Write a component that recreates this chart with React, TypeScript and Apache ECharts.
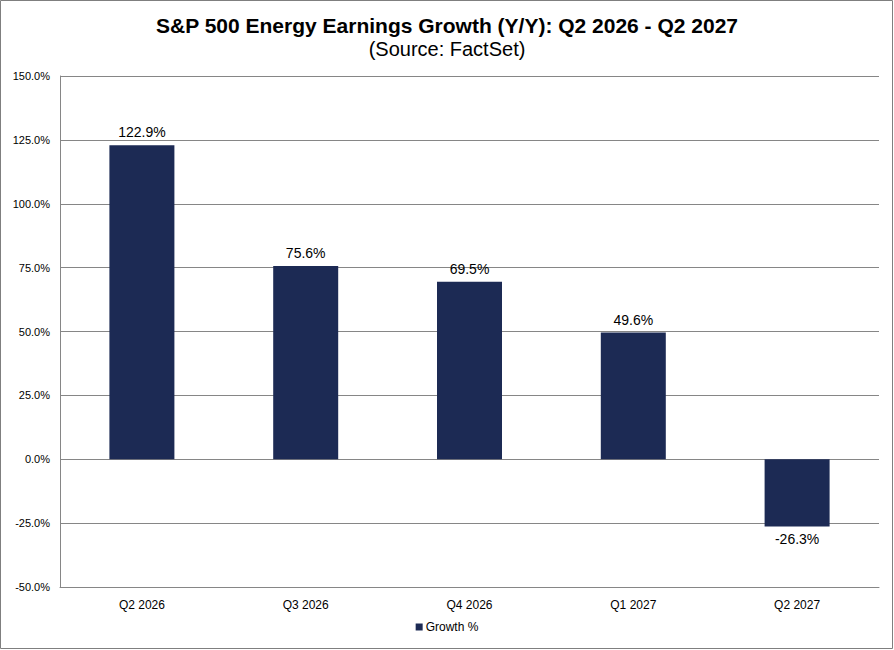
import React, { useEffect, useRef } from "react";
import * as echarts from "echarts";

const categories = ["Q2 2026", "Q3 2026", "Q4 2026", "Q1 2027", "Q2 2027"];
const growth = [122.9, 75.6, 69.5, 49.6, -26.3];
const seriesName = "Growth %";
const titleText = "S&P 500 Energy Earnings Growth (Y/Y): Q2 2026 - Q2 2027";
const subtitleText = "(Source: FactSet)";

export default function App() {
  const ref = useRef<HTMLDivElement>(null);
  useEffect(() => {
    if (!ref.current) return;
    const chart = echarts.init(ref.current, null, { renderer: "svg" });
    const font = "Liberation Sans, Arial, sans-serif";
    chart.setOption({
      animation: false,
      backgroundColor: "#ffffff",
      textStyle: { fontFamily: font },
      title: {
        text: titleText,
        subtext: subtitleText,
        left: "center",
        top: 10,
        itemGap: 3,
        textStyle: { fontFamily: font, fontSize: 21, fontWeight: "bold", color: "#000" },
        subtextStyle: { fontFamily: font, fontSize: 20, color: "#000" },
      },
      legend: {
        bottom: 12,
        left: "center",
        icon: "rect",
        itemWidth: 7,
        itemHeight: 7,
        itemGap: 4,
        textStyle: { fontFamily: font, fontSize: 12, color: "#000", padding: [0, 0, 0, -2] },
        data: [seriesName],
      },
      grid: { left: 60, right: 15, top: 76, bottom: 63, containLabel: false },
      xAxis: {
        type: "category",
        data: categories,
        axisLine: { onZero: false, show: true, lineStyle: { color: "#868686" } },
        axisTick: { show: false },
        axisLabel: { fontFamily: font, fontSize: 12, color: "#000", margin: 12 },
      },
      yAxis: {
        type: "value",
        min: -50,
        max: 150,
        interval: 25,
        axisLine: { show: true, lineStyle: { color: "#868686" } },
        axisTick: { show: false },
        splitLine: { lineStyle: { color: "#868686" } },
        axisLabel: {
          fontFamily: font,
          fontSize: 11,
          color: "#000",
          margin: 10,
          formatter: (v: number) => v.toFixed(1) + "%",
        },
      },
      series: [
        {
          name: seriesName,
          type: "bar",
          barWidth: 65,
          itemStyle: { color: "#1c2a54" },
          data: growth.map((v) => ({
            value: v,
            label: { position: v >= 0 ? "top" : "bottom" },
          })),
          label: {
            show: true,
            fontFamily: font,
            fontSize: 14,
            color: "#000",
            distance: 6,
            formatter: (p: any) => p.value.toFixed(1) + "%",
          },
        },
      ],
      graphic: [
        {
          type: "rect",
          shape: { x: 0.5, y: 0.5, width: 892, height: 648 },
          style: { fill: "none", stroke: "#7f7f7f", lineWidth: 1 },
          silent: true,
        },
      ],
    });
    return () => chart.dispose();
  }, []);
  return (
    <div
      ref={ref}
      style={{ position: "fixed", left: 0, top: 0, width: 894, height: 650 }}
    />
  );
}
